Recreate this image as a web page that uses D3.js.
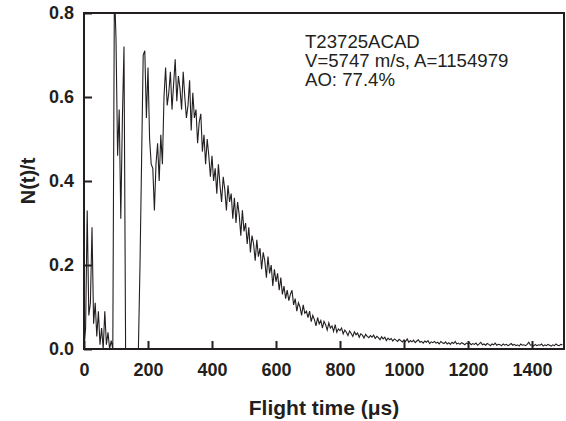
<!DOCTYPE html>
<html>
<head>
<meta charset="utf-8">
<script src="https://cdn.jsdelivr.net/npm/d3@7"></script>
<style>
  html, body { margin: 0; padding: 0; background: #fff; }
  svg { display: block; }
  .axis text { font-family: "Liberation Sans", Arial, sans-serif; font-weight: bold; font-size: 18px; fill: #231f20; }
  .axis path, .axis line { stroke: #231f20; }
</style>
</head>
<body>
<div id="chart"></div>
<script>
// N(t)/t sampled every 5 µs, 0 .. 1495 µs (one row = 100 µs)
const step = 5;
const signal = [
  0.0, 0.05, 0.33, 0.08, 0.11, 0.29, 0.06, 0.11, 0.03, 0.09, 0.01, 0.05, 0.0, 0.09, 0.01, 0.04, 0.0, 0.02, 0.0, 0.86,
  0.74, 0.46, 0.57, 0.31, 0.55, 0.72, 0.0, 0.0, 0.0, 0.0, 0.0, 0.0, 0.0, 0.0, 0.0, 0.2, 0.45, 0.70, 0.71, 0.55,
  0.67, 0.50, 0.44, 0.43, 0.33, 0.44, 0.49, 0.40, 0.51, 0.44, 0.60, 0.67, 0.58, 0.61, 0.66, 0.57, 0.63, 0.69, 0.59, 0.65,
  0.62, 0.57, 0.66, 0.60, 0.55, 0.58, 0.64, 0.52, 0.61, 0.55, 0.57, 0.49, 0.54, 0.56, 0.47, 0.51, 0.44, 0.50, 0.46, 0.41,
  0.46, 0.40, 0.43, 0.37, 0.44, 0.39, 0.35, 0.41, 0.38, 0.33, 0.39, 0.35, 0.37, 0.31, 0.36, 0.30, 0.35, 0.32, 0.27, 0.33,
  0.28, 0.30, 0.25, 0.29, 0.23, 0.27, 0.25, 0.21, 0.26, 0.22, 0.24, 0.19, 0.23, 0.21, 0.17, 0.22, 0.18, 0.20, 0.15, 0.19,
  0.16, 0.18, 0.14, 0.17, 0.13, 0.15, 0.12, 0.14, 0.115, 0.13, 0.14, 0.105, 0.12, 0.09, 0.11, 0.10, 0.08, 0.105, 0.085, 0.09,
  0.075, 0.09, 0.065, 0.08, 0.07, 0.055, 0.075, 0.06, 0.068, 0.05, 0.066, 0.058, 0.045, 0.062, 0.05, 0.055, 0.042, 0.058, 0.04, 0.048,
  0.044, 0.05, 0.036, 0.045, 0.04, 0.032, 0.043, 0.037, 0.03, 0.041, 0.034, 0.038, 0.028, 0.036, 0.033, 0.026, 0.035, 0.03, 0.027, 0.032,
  0.028, 0.033, 0.025, 0.03, 0.027, 0.022, 0.029, 0.024, 0.028, 0.02, 0.026, 0.022, 0.025, 0.019, 0.024, 0.021, 0.018, 0.023, 0.02, 0.017,
  0.022, 0.018, 0.024, 0.016, 0.02, 0.017, 0.021, 0.015, 0.019, 0.022, 0.016, 0.018, 0.014, 0.019, 0.016, 0.02, 0.013, 0.017, 0.015, 0.018,
  0.014, 0.016, 0.012, 0.018, 0.015, 0.013, 0.017, 0.012, 0.015, 0.011, 0.016, 0.013, 0.018, 0.012, 0.014, 0.011, 0.015, 0.013, 0.01, 0.014,
  0.012, 0.015, 0.01, 0.013, 0.011, 0.014, 0.009, 0.012, 0.016, 0.01, 0.012, 0.009, 0.013, 0.011, 0.008, 0.012, 0.01, 0.014, 0.009, 0.011,
  0.01, 0.008, 0.012, 0.009, 0.011, 0.008, 0.01, 0.013, 0.009, 0.011, 0.008, 0.01, 0.007, 0.012, 0.009, 0.01, 0.008, 0.011, 0.016, 0.009,
  0.01, 0.007, 0.011, 0.008, 0.01, 0.009, 0.012, 0.007, 0.01, 0.008, 0.011, 0.009, 0.007, 0.01, 0.008, 0.012, 0.009, 0.008, 0.011, 0.01
];

const xTicks = [0, 200, 400, 600, 800, 1000, 1200, 1400];
const yTicks = [0.0, 0.2, 0.4, 0.6, 0.8];
const infoLines = ["T23725ACAD", "V=5747 m/s, A=1154979", "AO: 77.4%"];

const width = 566;
const height = 421;
const margin = { top: 13, right: 2, bottom: 72, left: 84 };
const innerW = width - margin.left - margin.right;
const innerH = height - margin.top - margin.bottom;
const ink = "#231f20";

const svg = d3.select("#chart")
  .append("svg")
  .attr("width", width)
  .attr("height", height);

const g = svg.append("g").attr("transform", `translate(${margin.left},${margin.top})`);

const x = d3.scaleLinear().domain([0, 1500]).range([0, innerW]);
const y = d3.scaleLinear().domain([0, 0.8]).range([innerH, 0]);

g.append("clipPath").attr("id", "plot-clip")
  .append("rect").attr("width", innerW).attr("height", innerH);

const line = d3.line()
  .x((d, i) => x(i * step))
  .y((d) => y(d));

g.append("path")
  .datum(signal)
  .attr("clip-path", "url(#plot-clip)")
  .attr("fill", "none")
  .attr("stroke", ink)
  .attr("stroke-width", 1.1)
  .attr("d", line);

// frame
g.append("rect")
  .attr("width", innerW)
  .attr("height", innerH)
  .attr("fill", "none")
  .attr("stroke", ink)
  .attr("stroke-width", 2);

g.append("g")
  .attr("class", "axis")
  .attr("transform", `translate(0,${innerH})`)
  .call(d3.axisBottom(x).tickValues(xTicks).tickSize(-8).tickPadding(14).tickFormat(d3.format("d")))
  .call((s) => s.select(".domain").remove())
  .call((s) => s.selectAll("line").attr("stroke-width", 2));

g.append("g")
  .attr("class", "axis")
  .call(d3.axisLeft(y).tickValues(yTicks).tickSize(-8).tickPadding(10).tickFormat(d3.format(".1f")))
  .call((s) => s.select(".domain").remove())
  .call((s) => s.selectAll("line").attr("stroke-width", 2));

svg.append("text")
  .attr("x", margin.left + innerW / 2)
  .attr("y", 415)
  .attr("text-anchor", "middle")
  .attr("font-family", "Liberation Sans, Arial, sans-serif")
  .attr("font-weight", "bold")
  .attr("font-size", 21)
  .attr("fill", ink)
  .text("Flight time (μs)");

svg.append("text")
  .attr("transform", `translate(35,${margin.top + innerH / 2}) rotate(-90)`)
  .attr("text-anchor", "middle")
  .attr("font-family", "Liberation Sans, Arial, sans-serif")
  .attr("font-weight", "bold")
  .attr("font-size", 20)
  .attr("fill", ink)
  .text("N(t)/t");

svg.append("g")
  .selectAll("text")
  .data(infoLines)
  .join("text")
  .attr("x", 305)
  .attr("y", (d, i) => 48 + i * 19)
  .attr("font-family", "Liberation Sans, Arial, sans-serif")
  .attr("font-size", 18.6)
  .attr("fill", ink)
  .text((d) => d);
</script>
</body>
</html>
